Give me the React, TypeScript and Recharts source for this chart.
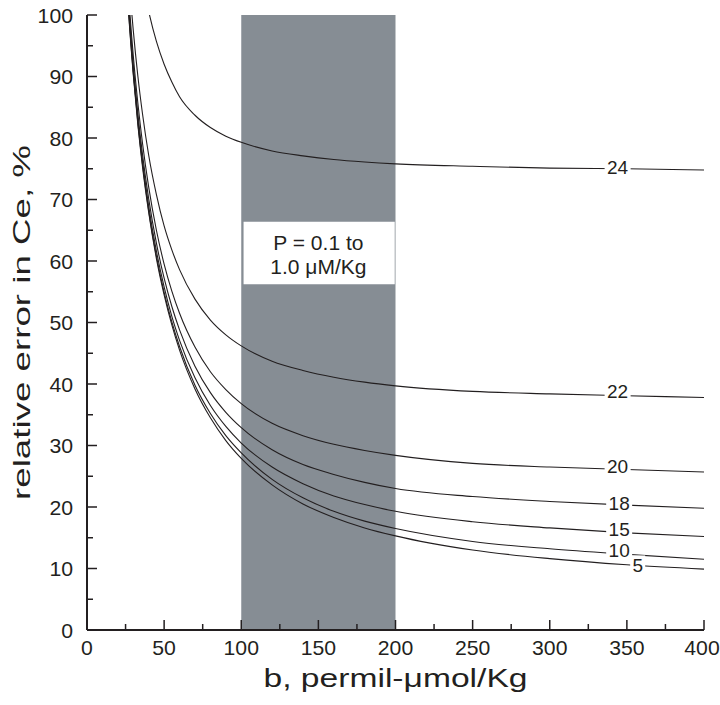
import React from 'react';
import { ComposedChart, Line, XAxis, YAxis, ReferenceArea, ReferenceDot } from 'recharts';

// b, permil-umol/Kg
const bValues = [25, 27, 30, 33, 36, 40, 45, 50, 55, 60, 70, 80, 90, 100, 120, 140, 160, 180, 200, 250, 300, 350, 400];

// relative error in Ce (%) for each curve
const err5 = [108.2, 100.2, 90.3, 82.1, 75.3, 67.9, 60.4, 54.5, 49.6, 45.5, 39.2, 34.5, 30.8, 27.9, 23.6, 20.5, 18.3, 16.6, 15.3, 13.0, 11.6, 10.6, 9.9];
const err10 = [108.5, 100.5, 90.6, 82.4, 75.7, 68.2, 60.8, 54.9, 50.1, 46.1, 39.8, 35.2, 31.6, 28.8, 24.5, 21.5, 19.3, 17.7, 16.5, 14.4, 13.2, 12.3, 11.5];
const err15 = [108.9, 101.0, 91.1, 83.0, 76.3, 68.9, 61.6, 55.8, 51.0, 47.1, 41.0, 36.5, 33.1, 30.4, 26.5, 23.8, 21.8, 20.4, 19.3, 17.6, 16.6, 15.8, 15.2];
const err18 = [109.6, 101.7, 91.9, 83.9, 77.3, 70.1, 62.9, 57.2, 52.6, 48.8, 42.9, 38.6, 35.4, 32.9, 29.3, 26.9, 25.3, 24.0, 23.0, 21.7, 20.9, 20.3, 19.8];
const err20 = [110.9, 103.1, 93.4, 85.6, 79.1, 72.0, 65.0, 59.5, 55.1, 51.5, 46.0, 42.0, 39.1, 36.8, 33.6, 31.6, 30.2, 29.2, 28.4, 27.1, 26.5, 26.1, 25.7];
const err22 = [114.3, 106.8, 97.5, 90.0, 83.9, 77.2, 70.8, 65.7, 61.8, 58.6, 53.8, 50.4, 48.0, 46.2, 43.7, 42.2, 41.1, 40.3, 39.7, 38.8, 38.4, 38.1, 37.8];
const err24 = [null, null, 116.9, 110.7, 105.8, 100.6, 95.7, 92.0, 89.1, 86.7, 83.7, 81.7, 80.3, 79.3, 77.9, 77.1, 76.5, 76.1, 75.8, 75.4, 75.1, 75.0, 74.8];

const xTicks = [0, 25, 50, 75, 100, 125, 150, 175, 200, 225, 250, 275, 300, 325, 350, 375, 400];
const yTicks = [0, 5, 10, 15, 20, 25, 30, 35, 40, 45, 50, 55, 60, 65, 70, 75, 80, 85, 90, 95, 100];

const curveKeys = ['e5', 'e10', 'e15', 'e18', 'e20', 'e22', 'e24'];
const curveNames = ['5', '10', '15', '18', '20', '22', '24'];
// where each curve number sits (b, error)
const tagB = [357, 345, 345, 345, 344, 344, 344];
const tagErr = [10.5, 13.0, 16.4, 20.7, 26.6, 38.9, 75.2];

const data = bValues.map((b, i) => ({
  b,
  e5: err5[i],
  e10: err10[i],
  e15: err15[i],
  e18: err18[i],
  e20: err20[i],
  e22: err22[i],
  e24: err24[i],
}));

const INK = '#231f20';
const FONT = '"Liberation Sans", Arial, sans-serif';
const X_GAP = 8;
const Y_GAP = 14;

const BottomTick = (props: any) => {
  const { x, y, payload } = props;
  const v = payload.value;
  const major = v % 50 === 0;
  const base = y - X_GAP;
  const s = String(v);
  return (
    <g>
      <line x1={x} y1={base} x2={x} y2={base - (major ? 10 : 6)} stroke={INK} strokeWidth={1.5} />
      {major && (
        <text
          x={v === 400 ? x - 2 : x}
          y={y}
          dy="0.8em"
          textAnchor="middle"
          fontSize={21}
          fontFamily={FONT}
          fill={INK}
          textLength={s.length * 11.8}
          lengthAdjust="spacingAndGlyphs"
        >
          {s}
        </text>
      )}
    </g>
  );
};

const TopTick = (props: any) => {
  const { x, y, payload } = props;
  const major = payload.value % 50 === 0;
  return <line x1={x} y1={y} x2={x} y2={y + (major ? 10 : 6)} stroke={INK} strokeWidth={1.5} />;
};

const LeftTick = (props: any) => {
  const { x, y, payload } = props;
  const v = payload.value;
  const major = v % 10 === 0;
  const base = x + Y_GAP;
  const s = String(v);
  return (
    <g>
      <line x1={base} y1={y} x2={base + (major ? 10 : 6)} y2={y} stroke={INK} strokeWidth={1.5} />
      {major && (
        <text
          x={x}
          y={y}
          dy="0.36em"
          textAnchor="end"
          fontSize={21}
          fontFamily={FONT}
          fill={INK}
          textLength={s.length * 11.8}
          lengthAdjust="spacingAndGlyphs"
        >
          {s}
        </text>
      )}
    </g>
  );
};

const RightTick = (props: any) => {
  const { x, y, payload } = props;
  const major = payload.value % 10 === 0;
  return <line x1={x} y1={y} x2={x - (major ? 10 : 6)} y2={y} stroke={INK} strokeWidth={1.5} />;
};

const XTitle = (props: any) => {
  const { x, y, width } = props.viewBox;
  return (
    <text
      x={x + width / 2}
      y={y + 48}
      dy="0.35em"
      textAnchor="middle"
      fontSize={26}
      fontFamily={FONT}
      fill={INK}
      textLength={264}
      lengthAdjust="spacingAndGlyphs"
    >
      b, permil-μmol/Kg
    </text>
  );
};

const YTitle = (props: any) => {
  const { x, y, height } = props.viewBox;
  const cx = x + 22;
  const cy = y + height / 2;
  return (
    <text
      x={cx}
      y={cy}
      dy="0.35em"
      textAnchor="middle"
      fontSize={24}
      fontFamily={FONT}
      fill={INK}
      textLength={355}
      lengthAdjust="spacingAndGlyphs"
      transform={`rotate(-90 ${cx} ${cy})`}
    >
      relative error in Ce, %
    </text>
  );
};

const CurveTag = ({ cx, cy, text }: any) => {
  const w = text.length * 11 + 4;
  return (
    <g>
      <rect x={cx - w / 2} y={cy - 10} width={w} height={20} fill="#fff" />
      <text x={cx} y={cy} dy="0.36em" textAnchor="middle" fontSize={19} fontFamily={FONT} fill={INK}>
        {text}
      </text>
    </g>
  );
};

const BoxText = ({ cx, cy }: any) => (
  <text x={cx} y={cy} textAnchor="middle" fontSize={21} fontFamily={FONT} fill={INK}>
    <tspan x={cx} dy="-0.15em">P = 0.1 to</tspan>
    <tspan x={cx} dy="1.15em">1.0 μM/Kg</tspan>
  </text>
);

export default function App() {
  return (
    <div style={{ position: 'absolute', left: 0, top: 0, background: '#fff' }}>
      <ComposedChart width={720} height={705} data={data} margin={{ top: 15, right: 16, bottom: 0, left: 0 }}>
        <XAxis
          dataKey="b"
          type="number"
          domain={[0, 400]}
          ticks={xTicks}
          interval={0}
          allowDataOverflow
          height={75}
          tickSize={0}
          tickMargin={X_GAP}
          tick={<BottomTick />}
          tickLine={false}
          axisLine={{ stroke: INK, strokeWidth: 2 }}
          label={<XTitle />}
        />
        <XAxis
          xAxisId="top"
          orientation="top"
          dataKey="b"
          type="number"
          domain={[0, 400]}
          ticks={xTicks}
          interval={0}
          allowDataOverflow
          height={0}
          tickSize={0}
          tickMargin={0}
          tick={<TopTick />}
          tickLine={false}
          axisLine={{ stroke: INK, strokeWidth: 2 }}
        />
        <YAxis
          type="number"
          domain={[0, 100]}
          ticks={yTicks}
          interval={0}
          allowDataOverflow
          width={87}
          tickSize={0}
          tickMargin={Y_GAP}
          tick={<LeftTick />}
          tickLine={false}
          axisLine={{ stroke: INK, strokeWidth: 2 }}
          label={<YTitle />}
        />
        <YAxis
          yAxisId="right"
          orientation="right"
          type="number"
          domain={[0, 100]}
          ticks={yTicks}
          interval={0}
          allowDataOverflow
          width={0}
          tickSize={0}
          tickMargin={0}
          tick={<RightTick />}
          tickLine={false}
          axisLine={{ stroke: INK, strokeWidth: 2 }}
        />
        <ReferenceArea x1={100} x2={200} y1={0} y2={100} fill="#868d94" fillOpacity={1} stroke="none" />
        <ReferenceArea x1={101.5} x2={199.5} y1={56.2} y2={66.4} fill="#ffffff" fillOpacity={1} stroke="none" />
        {curveKeys.map((k) => (
          <Line
            key={k}
            dataKey={k}
            type="monotone"
            stroke={INK}
            strokeWidth={1.1}
            dot={false}
            activeDot={false}
            isAnimationActive={false}
          />
        ))}
        {curveNames.map((name, i) => (
          <ReferenceDot
            key={name}
            x={tagB[i]}
            y={tagErr[i]}
            r={0}
            shape={(p: any) => <CurveTag cx={p.cx} cy={p.cy} text={name} />}
          />
        ))}
        <ReferenceDot x={150} y={61.3} r={0} shape={(p: any) => <BoxText cx={p.cx} cy={p.cy} />} />
      </ComposedChart>
    </div>
  );
}
